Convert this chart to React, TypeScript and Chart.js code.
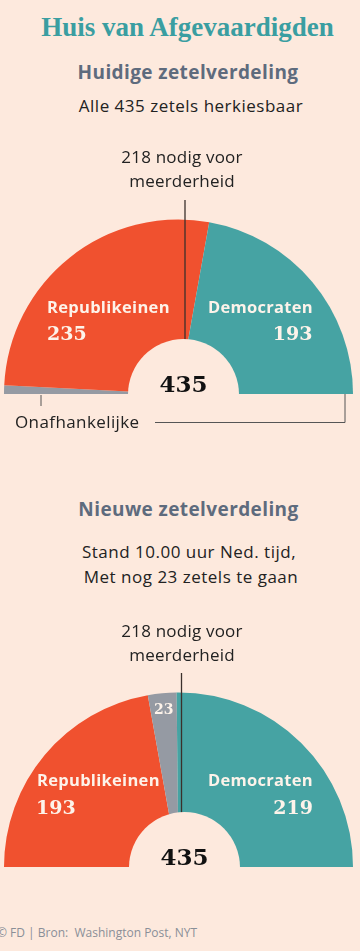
import React, { useEffect, useRef } from "react";
import { Chart, registerables } from "chart.js";

Chart.register(...registerables);

// ---------- data ----------
const currentParties = ["Onafhankelijke", "Republikeinen", "Democraten"];
const currentSeats = [7, 235, 193];

const newParties = ["Republikeinen", "Nog te gaan", "Democraten"];
const newSeats = [193, 23, 219];

const majoritySeats = 218;

// ---------- style ----------
const BG = "#fde9dd";
const RED = "#f0512f";
const TEAL = "#46a3a3";
const GRAY = "#959aa3";
const INK = "#222222";
const LINE = "#3b302c";
const SANS = "'Open Sans', Lato, sans-serif";
const SLAB = "'DejaVu Serif', serif";

const currentColors = [GRAY, RED, TEAL];
const newColors = [RED, GRAY, TEAL];

type Label = {
  text: string;
  dx: number;
  dy: number;
  font: string;
  color: string;
  align: CanvasTextAlign;
  spacing?: string;
};

const decorPlugin = {
  id: "decor",
  afterDatasetsDraw(chart: any, _args: any, opts: any) {
    const meta = chart.getDatasetMeta(0);
    const arc0 = meta.data[0] as any;
    if (!arc0) return;
    const cx = arc0.x;
    const cy = arc0.y;
    const R = arc0.outerRadius;
    const ctx = chart.ctx as any;
    ctx.save();

    // majority marker line
    const mx = cx + opts.lineDx;
    ctx.strokeStyle = LINE;
    ctx.lineWidth = 1.3;
    ctx.beginPath();
    ctx.moveTo(mx, cy + opts.lineTopDy);
    ctx.lineTo(mx, cy);
    ctx.stroke();

    // centre hole
    const hr = R * opts.holeRatio;
    const hx = cx + opts.holeDx;
    ctx.fillStyle = BG;
    ctx.beginPath();
    ctx.arc(hx, cy + 0.5, hr, Math.PI, 2 * Math.PI);
    ctx.closePath();
    ctx.fill();

    // total in hole
    ctx.fillStyle = "#111";
    ctx.font = `bold 23px ${SLAB}`;
    ctx.textAlign = "center";
    ctx.textBaseline = "alphabetic";
    ctx.letterSpacing = "0px";
    ctx.fillText(String(opts.total), hx, cy - 2);

    // note above
    ctx.fillStyle = INK;
    ctx.font = `17px ${SANS}`;
    ctx.letterSpacing = "0.2px";
    ctx.fillText(`${majoritySeats} nodig voor`, cx + opts.noteDx, cy + opts.noteDy);
    ctx.fillText("meerderheid", cx + opts.noteDx, cy + opts.noteDy + 24);

    // fixed labels
    (opts.labels as Label[]).forEach((l) => {
      ctx.font = l.font;
      ctx.fillStyle = l.color;
      ctx.textAlign = l.align;
      ctx.textBaseline = "alphabetic";
      ctx.letterSpacing = l.spacing || "0px";
      ctx.fillText(l.text, cx + l.dx, cy + l.dy);
    });

    // labels placed inside a slice
    ctx.letterSpacing = "0px";
    (opts.sliceLabels || []).forEach((s: any) => {
      const el = meta.data[s.index] as any;
      const mid = (el.startAngle + el.endAngle) / 2;
      const r = el.outerRadius * s.radiusFrac;
      ctx.font = s.font;
      ctx.fillStyle = s.color;
      ctx.textAlign = "center";
      ctx.textBaseline = "middle";
      ctx.fillText(s.text, cx + r * Math.cos(mid), cy + r * Math.sin(mid));
    });

    // leader lines
    ctx.strokeStyle = "#555";
    ctx.lineWidth = 1;
    (opts.leaders || []).forEach((pts: number[][]) => {
      ctx.beginPath();
      pts.forEach(([dx, dy], i) => {
        if (i === 0) ctx.moveTo(cx + dx, cy + dy);
        else ctx.lineTo(cx + dx, cy + dy);
      });
      ctx.stroke();
    });

    ctx.restore();
  },
};

type HemiProps = {
  top: number;
  height: number;
  padding: { left: number; right: number; top: number; bottom: number };
  parties: string[];
  seats: number[];
  colors: string[];
  decor: any;
};

function Hemicycle(p: HemiProps) {
  const ref = useRef<HTMLCanvasElement>(null);
  useEffect(() => {
    if (!ref.current) return;
    const chart = new Chart(ref.current, {
      type: "doughnut",
      data: {
        labels: p.parties,
        datasets: [
          {
            data: p.seats,
            backgroundColor: p.colors,
            borderWidth: 0,
            hoverOffset: 0,
          },
        ],
      },
      options: {
        animation: false,
        responsive: false,
        events: [],
        rotation: -90,
        circumference: 180,
        cutout: 0,
        layout: { padding: p.padding },
        plugins: {
          legend: { display: false },
          tooltip: { enabled: false },
          decor: p.decor,
        } as any,
      },
      plugins: [decorPlugin],
    });
    return () => chart.destroy();
  }, []);
  return (
    <canvas
      ref={ref}
      width={360}
      height={p.height}
      style={{ position: "absolute", left: 0, top: p.top, width: 360, height: p.height }}
    />
  );
}

function T(props: {
  top: number;
  left?: number;
  size: number;
  weight?: number;
  spacing?: number;
  color: string;
  family: string;
  children: React.ReactNode;
}) {
  return (
    <div
      style={{
        position: "absolute",
        top: props.top,
        left: props.left ?? 8,
        width: 360,
        textAlign: "center",
        fontSize: props.size,
        lineHeight: `${props.size}px`,
        fontWeight: props.weight ?? 400,
        letterSpacing: props.spacing ?? 0,
        color: props.color,
        fontFamily: props.family,
        whiteSpace: "nowrap",
      }}
    >
      {props.children}
    </div>
  );
}

export default function App() {
  const total1 = currentSeats.reduce((a, b) => a + b, 0);
  const total2 = newSeats.reduce((a, b) => a + b, 0);
  const white = "#fdf3ea";
  const partyFont = `bold 16.5px ${SANS}`;
  const partySp = "0.3px";
  const numFont = `bold 19px ${SLAB}`;

  const decor1 = {
    total: total1,
    lineDx: 6.5,
    lineTopDy: -194,
    holeDx: 5,
    holeRatio: 0.318,
    noteDx: 3.5,
    noteDy: -231,
    labels: [
      { text: currentParties[1], dx: -131.5, dy: -81, font: partyFont, spacing: partySp, color: white, align: "left" },
      { text: String(currentSeats[1]), dx: -131.5, dy: -54, font: numFont, color: white, align: "left" },
      { text: currentParties[2], dx: 134.5, dy: -81, font: partyFont, spacing: partySp, color: white, align: "right" },
      { text: String(currentSeats[2]), dx: 134, dy: -54, font: numFont, color: white, align: "right" },
      { text: currentParties[0], dx: -163.5, dy: 34, font: `17px ${SANS}`, spacing: "0.4px", color: INK, align: "left" },
    ],
    leaders: [
      [
        [-137.5, 1],
        [-137.5, 12],
      ],
      [
        [-23.5, 28.5],
        [166.5, 28.5],
        [166.5, 0],
      ],
    ],
  };

  const decor2 = {
    total: total2,
    lineDx: 3,
    lineTopDy: -194,
    holeDx: 6,
    holeRatio: 0.318,
    noteDx: 3.5,
    noteDy: -230,
    labels: [
      { text: newParties[0], dx: -141.5, dy: -81, font: partyFont, spacing: partySp, color: white, align: "left" },
      { text: String(newSeats[0]), dx: -142.5, dy: -53, font: numFont, color: white, align: "left" },
      { text: newParties[2], dx: 134.5, dy: -81, font: partyFont, spacing: partySp, color: white, align: "right" },
      { text: String(newSeats[2]), dx: 134.5, dy: -53, font: numFont, color: white, align: "right" },
    ],
    sliceLabels: [
      { index: 1, text: String(newSeats[1]), radiusFrac: 0.9, font: `bold 14px ${SLAB}`, color: white },
    ],
  };

  return (
    <div style={{ position: "relative", width: 360, height: 951, background: BG, overflow: "hidden" }}>
      <style>{`body{margin:0;background:${BG};}`}</style>
      <T top={14} left={7.5} size={27} weight={700} color="#3a9ea1" family="'Liberation Serif', serif">
        Huis van Afgevaardigden
      </T>
      <T top={63.2} size={19} weight={700} spacing={0.4} color="#5e6b7d" family={SANS}>
        Huidige zetelverdeling
      </T>
      <T top={96.9} left={11} size={17} spacing={0.5} color={INK} family={SANS}>
        Alle 435 zetels herkiesbaar
      </T>

      <Hemicycle
        top={140}
        height={300}
        padding={{ left: 4, right: 7, top: 79.5, bottom: 46 }}
        parties={currentParties}
        seats={currentSeats}
        colors={currentColors}
        decor={decor1}
      />

      <T top={500.2} left={8.5} size={19} weight={700} spacing={0.4} color="#5e6b7d" family={SANS}>
        Nieuwe zetelverdeling
      </T>
      <T top={542.9} left={9} size={17} spacing={0.5} color={INK} family={SANS}>
        Stand 10.00 uur Ned. tijd,
      </T>
      <T top={567.9} left={11} size={17} spacing={0.5} color={INK} family={SANS}>
        Met nog 23 zetels te gaan
      </T>

      <Hemicycle
        top={600}
        height={290}
        padding={{ left: 4, right: 7, top: 92.5, bottom: 23 }}
        parties={newParties}
        seats={newSeats}
        colors={newColors}
        decor={decor2}
      />

      <div
        style={{
          position: "absolute",
          top: 927.3,
          left: -3,
          fontSize: 12,
          lineHeight: "12px",
          color: "#8a8f98",
          fontFamily: SANS,
          whiteSpace: "nowrap",
        }}
      >
        © FD | Bron:&nbsp; Washington Post, NYT
      </div>
    </div>
  );
}
